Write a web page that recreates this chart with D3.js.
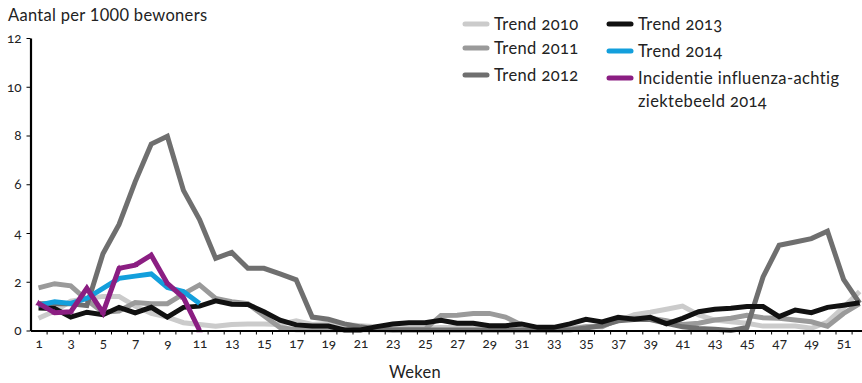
<!DOCTYPE html>
<html><head><meta charset="utf-8">
<script src="https://cdn.jsdelivr.net/npm/d3@7"></script>
<style>
body{margin:0;background:#fff;}
svg{display:block;font-family:"Lato","Noto Sans",sans-serif;font-feature-settings:"onum";}
.lining{font-feature-settings:"lnum";}
</style></head><body>
<svg id="chart" width="862" height="383"></svg>
<script>
const weeks = [1,2,3,4,5,6,7,8,9,10,11,12,13,14,15,16,17,18,19,20,21,22,23,24,25,26,27,28,29,30,31,32,33,34,35,36,37,38,39,40,41,42,43,44,45,46,47,48,49,50,51,52];
const weekLabels = ["1","3","5","7","9","11","13","15","17","19","21","23","25","27","29","31","33","35","37","39","41","43","45","47","49","51"];
const yTicks = [0,2,4,6,8,10,12];

const trend2010 = [0.5,0.8,1.2,1.3,1.4,1.4,1.0,0.7,0.55,0.32,0.25,0.18,0.25,0.27,0.27,0.25,0.4,0.25,0.3,0.25,0.2,0.15,0.1,0.1,0.1,0.12,0.12,0.12,0.12,0.12,0.12,0.1,0.1,0.1,0.15,0.2,0.4,0.65,0.75,0.87,1.0,0.64,0.43,0.36,0.3,0.18,0.18,0.18,0.09,0.35,0.95,1.6];
const trend2011 = [1.75,1.92,1.83,1.25,0.75,0.8,1.15,1.1,1.1,1.5,1.87,1.32,1.18,1.1,0.6,0.12,0.03,0.03,0.03,0.03,0.03,0.03,0.03,0.05,0.05,0.62,0.63,0.7,0.7,0.55,0.23,0.09,0.05,0.05,0.15,0.15,0.45,0.5,0.5,0.4,0.25,0.3,0.43,0.5,0.62,0.52,0.5,0.43,0.36,0.17,0.7,1.1];
const trend2012 = [1.1,1.1,1.1,1.02,3.15,4.35,6.1,7.65,7.97,5.75,4.55,2.96,3.2,2.55,2.55,2.32,2.08,0.55,0.46,0.27,0.15,0.06,0.02,0.02,0.02,0.02,0.02,0.02,0.02,0.02,0.02,0.02,0.02,0.02,0.1,0.2,0.4,0.45,0.45,0.3,0.15,0.08,0.05,0.0,0.12,2.2,3.5,3.63,3.77,4.07,2.1,1.12];
const trend2013 = [0.92,0.9,0.55,0.75,0.65,0.95,0.72,0.95,0.55,0.95,1.0,1.22,1.08,1.07,0.77,0.42,0.23,0.18,0.18,0.02,0.02,0.16,0.27,0.32,0.32,0.42,0.3,0.3,0.2,0.2,0.27,0.13,0.13,0.27,0.46,0.35,0.54,0.46,0.54,0.27,0.5,0.77,0.87,0.91,0.98,0.98,0.57,0.84,0.73,0.95,1.04,1.14];
const trend2014 = [1.04,1.18,1.11,1.32,1.73,2.14,2.23,2.32,1.77,1.6,1.11];
const incidentie2014 = [1.11,0.73,0.77,1.73,0.73,2.55,2.68,3.09,1.93,1.35,0.0];

const seriesNames = ["Trend 2010","Trend 2011","Trend 2012","Trend 2013","Trend 2014","Incidentie influenza-achtig ziektebeeld 2014"];
const seriesColors = ["#cbcbcb","#9a9a9a","#6f6f6f","#111111","#139fdc","#8b1e82"];
const seriesValues = [trend2010,trend2011,trend2012,trend2013,trend2014,incidentie2014];

const svg = d3.select("#chart");
const x = d3.scaleLinear().domain([0.5,52.5]).range([30.5,867.7]);
const y = d3.scaleLinear().domain([0,12]).range([330.5,38]);

// lines
const line = d3.line().x((d,i)=>x(weeks[i])).y(d=>y(d));
const gLines = svg.append("g");
seriesValues.forEach((vals,k)=>{
  gLines.append("path").datum(vals)
    .attr("fill","none").attr("stroke",seriesColors[k])
    .attr("stroke-width",5).attr("stroke-linejoin","miter").attr("stroke-miterlimit",3)
    .attr("d",line);
});
// small triangle markers on incidence line
gLines.selectAll(".tri").data(incidentie2014).join("path")
  .attr("transform",(d,i)=>`translate(${x(weeks[i])},${y(d)})`)
  .attr("d",d3.symbol(d3.symbolTriangle,18)).attr("fill",seriesColors[5]);

// axes
const axisColor = "#000";
const gx = svg.append("g").attr("transform",`translate(0,${y(0)})`);
gx.call(d3.axisBottom(x).tickValues(weeks.map(w=>w+0.5)).tickFormat("").tickSize(4).tickSizeOuter(0));
gx.select(".domain").attr("stroke",axisColor).attr("stroke-width",2.2);
gx.selectAll(".tick line").attr("stroke",axisColor).attr("stroke-width",1);
const gxl = svg.append("g").attr("transform",`translate(0,${y(0)})`);
gxl.call(d3.axisBottom(x).tickValues(weekLabels.map(Number)).tickFormat((d,i)=>weekLabels[i]).tickSize(0).tickPadding(8));
gxl.select(".domain").remove();
gxl.selectAll("text").attr("font-size",13.5).attr("fill","#222").attr("font-family","Lato, 'Noto Sans', sans-serif");

const gy = svg.append("g").attr("transform",`translate(${x(0.5)},0)`);
gy.call(d3.axisLeft(y).tickValues(yTicks).tickFormat(d3.format("d")).tickSize(4).tickSizeOuter(0).tickPadding(5));
gy.select(".domain").attr("stroke",axisColor).attr("stroke-width",2.2);
gy.selectAll(".tick line").attr("stroke",axisColor);
gy.selectAll("text").attr("font-size",13.5).attr("fill","#222").attr("font-family","Lato, 'Noto Sans', sans-serif");

// titles
svg.append("text").attr("class","lining").attr("x",8).attr("y",21).attr("font-size",16.5).attr("letter-spacing",0.3).attr("fill","#222").text("Aantal per 1000 bewoners");
svg.append("text").attr("x",415).attr("y",378).attr("text-anchor","middle").attr("font-size",16.5).attr("letter-spacing",0.3).attr("fill","#222").text("Weken");

// legend
const legendPos = [[463,24],[463,48],[463,75],[607,24],[607,51],[607,78]];
const gl = svg.append("g");
seriesNames.forEach((name,k)=>{
  const [lx,ly] = legendPos[k];
  gl.append("line").attr("x1",lx+2).attr("x2",lx+24).attr("y1",ly).attr("y2",ly)
    .attr("stroke",seriesColors[k]).attr("stroke-width",5).attr("stroke-linecap","round");
  const t = gl.append("text").attr("x",lx+31).attr("y",ly+5.5).attr("font-size",16.5).attr("letter-spacing",0.4).attr("fill","#222");
  if(k===5){
    t.append("tspan").attr("x",lx+31).text("Incidentie influenza-achtig");
    t.append("tspan").attr("x",lx+31).attr("dy",23).text("ziektebeeld 2014");
  } else t.text(name);
});
</script>
</body></html>
